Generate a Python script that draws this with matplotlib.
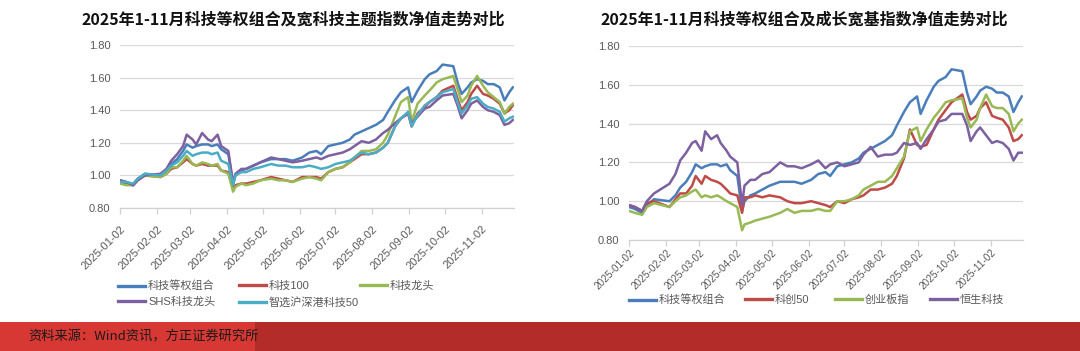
import matplotlib
matplotlib.use("Agg")
import matplotlib.pyplot as plt
import matplotlib.dates as mdates
from matplotlib.patches import Rectangle
import pandas as pd

plt.rcParams['font.family'] = ['Liberation Sans', 'Noto Sans CJK SC', 'DejaVu Sans']

dates = ["2025-01-02", "2025-01-07", "2025-01-13", "2025-01-17", "2025-01-23",
         "2025-02-05", "2025-02-10", "2025-02-14", "2025-02-19", "2025-02-24",
         "2025-02-27", "2025-03-04", "2025-03-07", "2025-03-12", "2025-03-17",
         "2025-03-20", "2025-03-25", "2025-03-28", "2025-04-03", "2025-04-07",
         "2025-04-09", "2025-04-14", "2025-04-18", "2025-04-24", "2025-04-30",
         "2025-05-09", "2025-05-15", "2025-05-21", "2025-05-27", "2025-06-04",
         "2025-06-10", "2025-06-16", "2025-06-20", "2025-06-26", "2025-07-02",
         "2025-07-08", "2025-07-14", "2025-07-18", "2025-07-24", "2025-07-30",
         "2025-08-05", "2025-08-11", "2025-08-15", "2025-08-21", "2025-08-26",
         "2025-09-01", "2025-09-04", "2025-09-09", "2025-09-15", "2025-09-19",
         "2025-09-25", "2025-09-30", "2025-10-09", "2025-10-13", "2025-10-16",
         "2025-10-21", "2025-10-24", "2025-10-29", "2025-11-03", "2025-11-07",
         "2025-11-12", "2025-11-17", "2025-11-21", "2025-11-25", "2025-11-28"]

# 科技等权组合 (shared by both charts)
tech_equal = [0.97, 0.96, 0.94, 0.98, 1.01, 1.00, 1.03, 1.07, 1.10, 1.15,
              1.19, 1.17, 1.18, 1.19, 1.19, 1.18, 1.19, 1.16, 1.13, 0.95,
              1.00, 1.03, 1.04, 1.06, 1.08, 1.10, 1.10, 1.10, 1.09, 1.11,
              1.14, 1.15, 1.13, 1.18, 1.19, 1.20, 1.22, 1.25, 1.27, 1.29,
              1.31, 1.34, 1.39, 1.46, 1.51, 1.54, 1.45, 1.52, 1.59, 1.62,
              1.64, 1.68, 1.67, 1.56, 1.50, 1.54, 1.57, 1.59, 1.58, 1.56,
              1.56, 1.54, 1.46, 1.51, 1.54]
# 科技100
tech100 = [0.96, 0.95, 0.94, 0.98, 1.00, 0.99, 1.01, 1.04, 1.05, 1.08,
           1.10, 1.07, 1.06, 1.07, 1.06, 1.06, 1.06, 1.03, 1.02, 0.92,
           0.94, 0.95, 0.95, 0.96, 0.97, 0.99, 0.98, 0.97, 0.96, 0.99,
           0.99, 0.99, 0.98, 1.02, 1.04, 1.05, 1.08, 1.10, 1.13, 1.13,
           1.14, 1.17, 1.20, 1.30, 1.35, 1.38, 1.30, 1.38, 1.42, 1.45,
           1.48, 1.52, 1.55, 1.46, 1.40, 1.45, 1.50, 1.55, 1.50, 1.49,
           1.47, 1.44, 1.38, 1.40, 1.43]
# 科技龙头
tech_leader = [0.95, 0.94, 0.94, 0.97, 1.00, 0.99, 1.01, 1.05, 1.05, 1.09,
               1.12, 1.07, 1.06, 1.08, 1.07, 1.06, 1.07, 1.03, 1.01, 0.90,
               0.93, 0.95, 0.94, 0.95, 0.97, 0.98, 0.97, 0.97, 0.96, 0.98,
               0.99, 0.98, 0.97, 1.02, 1.04, 1.05, 1.08, 1.11, 1.15, 1.15,
               1.16, 1.20, 1.25, 1.36, 1.45, 1.48, 1.33, 1.44, 1.49, 1.52,
               1.57, 1.59, 1.61, 1.52, 1.45, 1.49, 1.55, 1.61, 1.55, 1.51,
               1.48, 1.45, 1.38, 1.42, 1.44]
# SHS科技龙头
shs_leader = [0.97, 0.96, 0.94, 0.97, 1.00, 1.01, 1.04, 1.09, 1.13, 1.18,
              1.25, 1.22, 1.19, 1.26, 1.22, 1.21, 1.25, 1.18, 1.15, 0.95,
              1.01, 1.04, 1.04, 1.06, 1.08, 1.11, 1.10, 1.09, 1.08, 1.09,
              1.10, 1.11, 1.10, 1.12, 1.13, 1.14, 1.16, 1.18, 1.21, 1.20,
              1.22, 1.26, 1.28, 1.32, 1.35, 1.38, 1.32, 1.36, 1.41, 1.42,
              1.46, 1.49, 1.50, 1.42, 1.35, 1.40, 1.44, 1.46, 1.42, 1.40,
              1.39, 1.37, 1.31, 1.32, 1.34]
# 智选沪深港科技50
smart_tech50 = [0.96, 0.96, 0.95, 0.98, 1.01, 1.00, 1.03, 1.06, 1.08, 1.12,
                1.15, 1.12, 1.13, 1.14, 1.14, 1.13, 1.14, 1.09, 1.07, 0.94,
                1.00, 1.02, 1.02, 1.04, 1.05, 1.07, 1.06, 1.06, 1.05, 1.05,
                1.06, 1.05, 1.04, 1.05, 1.07, 1.08, 1.09, 1.11, 1.14, 1.13,
                1.14, 1.17, 1.20, 1.30, 1.35, 1.39, 1.30, 1.37, 1.43, 1.45,
                1.48, 1.51, 1.53, 1.44, 1.38, 1.43, 1.47, 1.48, 1.44, 1.42,
                1.41, 1.39, 1.33, 1.35, 1.36]
# 科创50
star50 = [0.98, 0.97, 0.95, 0.99, 1.00, 0.97, 1.01, 1.04, 1.04, 1.08,
          1.13, 1.09, 1.13, 1.11, 1.10, 1.09, 1.06, 1.04, 1.03, 0.94,
          1.02, 1.02, 1.03, 1.02, 1.03, 1.02, 1.00, 0.99, 0.99, 1.00,
          0.99, 0.98, 0.97, 1.00, 0.99, 1.01, 1.02, 1.03, 1.06, 1.06,
          1.07, 1.09, 1.13, 1.22, 1.37, 1.29, 1.28, 1.29, 1.37, 1.42,
          1.47, 1.51, 1.55, 1.46, 1.42, 1.44, 1.48, 1.51, 1.44, 1.43,
          1.42, 1.38, 1.31, 1.32, 1.34]
# 创业板指
chinext = [0.95, 0.94, 0.93, 0.97, 0.99, 0.97, 1.00, 1.02, 1.03, 1.05,
           1.06, 1.02, 1.03, 1.02, 1.03, 1.02, 1.00, 0.99, 0.97, 0.85,
           0.88, 0.89, 0.90, 0.91, 0.92, 0.94, 0.96, 0.94, 0.95, 0.95,
           0.96, 0.95, 0.95, 1.00, 1.00, 1.01, 1.03, 1.06, 1.08, 1.10,
           1.10, 1.13, 1.17, 1.23, 1.36, 1.38, 1.31, 1.37, 1.43, 1.46,
           1.51, 1.52, 1.53, 1.43, 1.38, 1.42, 1.48, 1.55, 1.49, 1.48,
           1.48, 1.45, 1.36, 1.40, 1.42]
# 恒生科技
hs_tech = [0.98, 0.97, 0.95, 1.00, 1.04, 1.09, 1.14, 1.21, 1.25, 1.30,
           1.31, 1.26, 1.36, 1.32, 1.34, 1.30, 1.26, 1.23, 1.20, 0.98,
           1.08, 1.11, 1.11, 1.14, 1.15, 1.20, 1.18, 1.18, 1.17, 1.19,
           1.21, 1.17, 1.19, 1.20, 1.18, 1.19, 1.20, 1.24, 1.28, 1.23,
           1.24, 1.24, 1.25, 1.30, 1.29, 1.30, 1.27, 1.32, 1.37, 1.41,
           1.42, 1.45, 1.45, 1.39, 1.31, 1.36, 1.38, 1.34, 1.30, 1.31,
           1.30, 1.27, 1.21, 1.25, 1.25]

left_names = ["科技等权组合", "科技100", "科技龙头", "SHS科技龙头", "智选沪深港科技50"]
right_names = ["科技等权组合", "科创50", "创业板指", "恒生科技"]
title_left = "2025年1-11月科技等权组合及宽科技主题指数净值走势对比"
title_right = "2025年1-11月科技等权组合及成长宽基指数净值走势对比"
yticks = [0.80, 1.00, 1.20, 1.40, 1.60, 1.80]
source_text = "资料来源：Wind资讯，方正证券研究所"

C_BLUE, C_RED, C_GREEN, C_PURPLE, C_TEAL = "#4a7ebb", "#be4b48", "#98b954", "#7d60a0", "#4bacc6"

x = pd.to_datetime(dates)
W, H = 1080, 351
fig = plt.figure(figsize=(W / 100, H / 100), dpi=100)
fig.patch.set_facecolor("white")


def fx(px):
    return px / W


def fy(py):
    return 1 - py / H


def style_axes(ax, xsize, xpad):
    ax.set_ylim(0.80, 1.80)
    ax.set_xlim(pd.Timestamp("2025-01-02"), pd.Timestamp("2025-11-29"))
    ax.set_yticks(yticks)
    ax.yaxis.set_major_formatter(matplotlib.ticker.FormatStrFormatter("%.2f"))
    ax.grid(axis="y", color="#d9d9d9", lw=0.9)
    ax.set_axisbelow(True)
    for s in ["left", "right", "top"]:
        ax.spines[s].set_visible(False)
    ax.spines["bottom"].set_color("#d0d0d0")
    ax.spines["bottom"].set_linewidth(0.9)
    ax.xaxis.set_major_locator(mdates.MonthLocator(bymonthday=2))
    ax.xaxis.set_major_formatter(mdates.DateFormatter("%Y-%m-%d"))
    ax.tick_params(axis="y", length=0, labelsize=8, labelcolor="#595959", pad=7)
    ax.tick_params(axis="x", length=4, color="#d0d0d0", width=0.9,
                   labelsize=xsize, labelcolor="#595959", pad=xpad)
    for lab in ax.get_xticklabels():
        lab.set_rotation(45)
        lab.set_ha("right")
        lab.set_va("top")
        lab.set_rotation_mode("anchor")


# Left chart
axL = fig.add_axes([fx(120), fy(208), fx(514) - fx(120), fy(45) - fy(208)])
lw = 1.8
lL = []
for ser, col in zip([tech_equal, tech100, tech_leader, shs_leader, smart_tech50],
                    [C_BLUE, C_RED, C_GREEN, C_PURPLE, C_TEAL]):
    lL.append(axL.plot(x, ser, color=col, lw=lw, solid_joinstyle="round")[0])
style_axes(axL, 8, 7.5)

# Right chart
axR = fig.add_axes([fx(629), fy(240), fx(1023) - fx(629), fy(46) - fy(240)])
lR = []
for ser, col in zip([tech_equal, star50, chinext, hs_tech],
                    [C_BLUE, C_RED, C_GREEN, C_PURPLE]):
    lR.append(axR.plot(x, ser, color=col, lw=lw, solid_joinstyle="round")[0])
style_axes(axR, 7.2, 1.5)

# Titles
fig.text(fx(293), fy(20), title_left, ha="center", va="center", fontsize=11.5,
         fontweight="bold", family=["Noto Sans CJK SC"], color="#111111")
fig.text(fx(804), fy(20), title_right, ha="center", va="center", fontsize=11.5,
         fontweight="bold", family=["Noto Sans CJK SC"], color="#111111")


# Legends (one entry per slot, Excel-like equal column spacing)
def legend_entry(line, label, px, py):
    h = matplotlib.lines.Line2D([], [], color=line.get_color(), lw=2.4)
    fig.legend([h], [label], loc="center left", bbox_to_anchor=(fx(px), fy(py)),
               frameon=False, borderpad=0, borderaxespad=0, handlelength=2.4,
               handletextpad=0.3, fontsize=8, labelcolor="#595959")


left_pos = [(118, 286), (239, 286), (360, 286), (118, 302), (239, 302)]
for ln, nm, (px, py) in zip(lL, left_names, left_pos):
    legend_entry(ln, nm, px, py)
right_pos = [(629, 300), (745, 300), (835, 300), (930, 300)]
for ln, nm, (px, py) in zip(lR, right_names, right_pos):
    legend_entry(ln, nm, px, py)

# Footer band
fig.add_artist(Rectangle((0, 0), 1, 29 / H, transform=fig.transFigure,
                         facecolor="#b32c29", edgecolor="none"))
fig.add_artist(Rectangle((0, 0), 255 / W, 29 / H, transform=fig.transFigure,
                         facecolor="#d83834", edgecolor="none"))
fig.text(fx(28), fy(337), source_text, ha="left", va="center", fontsize=9.5,
         family=["Noto Sans CJK SC"], color="#1a1a1a", style="italic")

fig.savefig("out.png", dpi=100, facecolor="white")
